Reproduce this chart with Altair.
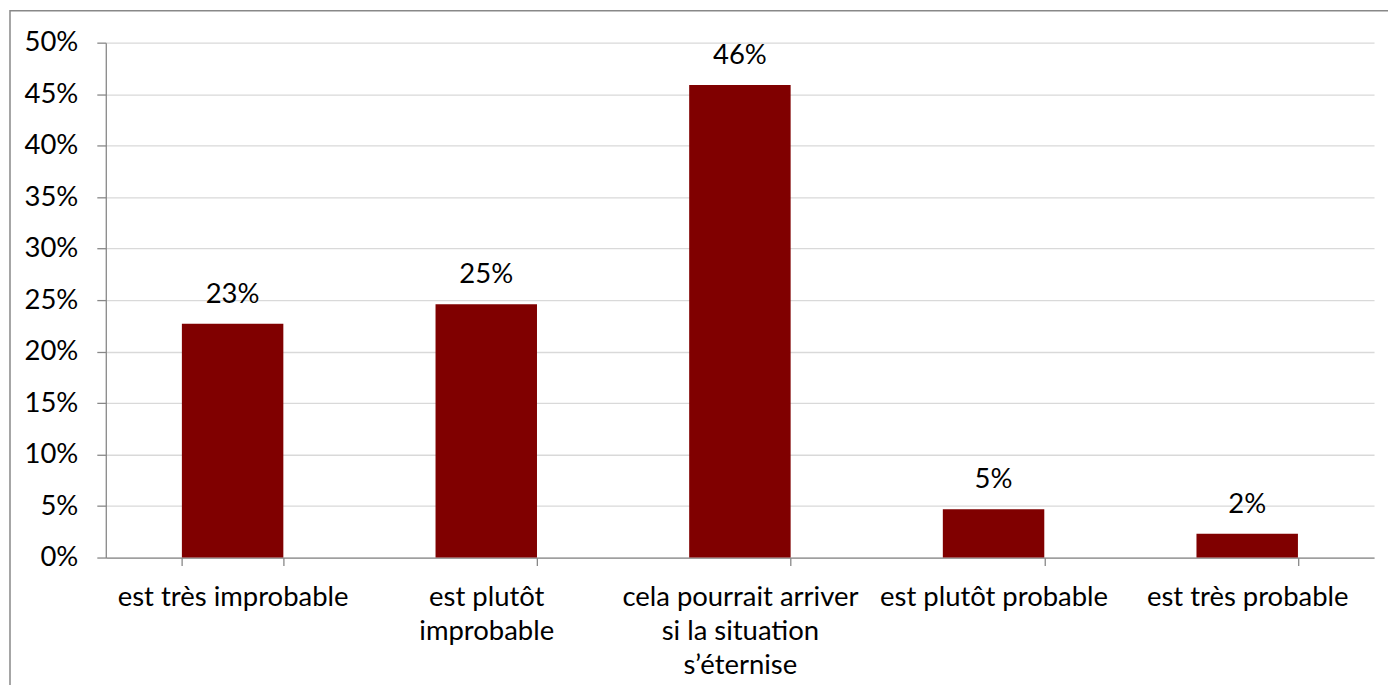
import altair as alt
import pandas as pd

categories = [
    "est très improbable",
    "est plutôt\nimprobable",
    "cela pourrait arriver\nsi la situation\ns’éternise",
    "est plutôt probable",
    "est très probable",
]
values = [0.227, 0.246, 0.459, 0.047, 0.023]
y_ticks = [0, 0.05, 0.10, 0.15, 0.20, 0.25, 0.30, 0.35, 0.40, 0.45, 0.50]

df = pd.DataFrame({"cat": categories, "val": values})
FONT = "Lato"
FS = 27.5

x_enc = alt.X(
    "cat:N",
    sort=categories,
    scale=alt.Scale(paddingInner=0.6, paddingOuter=0.3),
    axis=alt.Axis(
        title=None,
        labelAngle=0,
        labelExpr="split(datum.label, '\\n')",
        labelFont=FONT,
        labelFontSize=FS,
        labelColor="#000000",
        labelLineHeight=34,
        labelPadding=18,
        labelLimit=400,
        tickBand="extent",
        tickSize=8,
        tickColor="#888888",
        tickWidth=1.3,
        domainColor="#888888",
        domainWidth=1.3,
        grid=False,
    ),
)
y_enc = alt.Y(
    "val:Q",
    scale=alt.Scale(domain=[0, 0.5], nice=False),
    axis=alt.Axis(
        title=None,
        values=y_ticks,
        format=".0%",
        labelFont=FONT,
        labelFontSize=FS,
        labelColor="#000000",
        labelPadding=19,
        tickSize=9,
        tickColor="#888888",
        tickWidth=1.3,
        domainColor="#888888",
        domainWidth=1.3,
        gridColor="#d9d9d9",
        gridWidth=1.3,
    ),
)

base = alt.Chart(df)
bars = base.mark_bar(color="#800000").encode(x=x_enc, y=y_enc)
labels = base.mark_text(
    baseline="bottom", dy=-15, font=FONT, fontSize=FS, color="#000000"
).encode(x=alt.X("cat:N", sort=categories), y="val:Q", text=alt.Text("val:Q", format=".0%"))

frame = alt.Chart(pd.DataFrame({"a": [0]})).mark_rect(
    fill="transparent", stroke="#888888", strokeWidth=1.5
).encode(
    x=alt.value(-96), x2=alt.value(1400), y=alt.value(-32), y2=alt.value(800)
)

chart = alt.layer(bars, labels, frame).properties(
    width=1271,
    height=516,
    padding={"left": 98, "top": 34, "right": 14, "bottom": 127},
    autosize=alt.AutoSizeParams(type="none"),
).configure_view(stroke=None)

chart.save("out.html", embed_options={"renderer": "svg", "actions": False})
